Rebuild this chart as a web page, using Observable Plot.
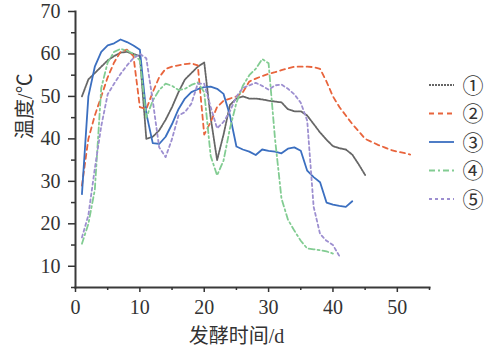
<!DOCTYPE html>
<html><head><meta charset="utf-8">
<script src="https://cdn.jsdelivr.net/npm/d3@7"></script>
<script src="https://cdn.jsdelivr.net/npm/@observablehq/plot@0.6"></script>
<style>
body{margin:0;background:#fff}
#c{width:486px;height:358px}
#c svg text{font-family:'Liberation Serif','Noto Sans CJK SC',serif !important}
#c svg text.circ{font-family:'Noto Sans CJK SC','DejaVu Sans',sans-serif !important}
</style>
</head><body><div id="c"></div>
<script>
const seriesNames = ["①","②","③","④","⑤"];
const days1 = [1,2,3,4,5,6,7,8,9,10,11,12,13,14,15,16,17,18,19,20,21,22,23,24,25,26,27,28,29,30,31,32,33,34,35,36,37,38,39,40,41,42,43,44,45];
const temp1 = [50,54,55.5,57,58.5,59.5,60.3,60.5,60,59.5,40,40.5,42,44.5,47.5,51,54,55.5,57,58,45,35,41,48,49.5,50,49.5,49.5,49.3,49,48.8,48.6,47,46.5,46.5,45.5,43.5,41.5,39.8,38.3,37.8,37.5,36.3,34,31.5];
const days2 = [1,2,3,4,5,6,7,8,9,10,11,12,13,14,15,16,17,18,19,20,21,22,23,24,25,26,27,28,29,30,31,32,33,34,35,36,37,38,39,40,41,42,43,44,45,46,47,48,49,50,51,52];
const temp2 = [29,40,45.5,50,54.5,58,60.5,61,59.5,47.5,47,51,54.5,56.5,57,57.3,57.6,57.8,57.3,41,44,47.5,49,49.5,50,51,53.5,54.2,54.8,55.3,55.7,56.2,56.6,57,57,57,56.9,56.5,53.5,50,47.5,45.5,43.5,41.8,40,39.3,38.6,38,37.4,37,36.7,36.3];
const days3 = [1,2,3,4,5,6,7,8,9,10,11,12,13,14,15,16,17,18,19,20,21,22,23,24,25,26,27,28,29,30,31,32,33,34,35,36,37,38,39,40,41,42,43];
const temp3 = [27,50,57,60.5,62,62.5,63.4,62.8,62,61,46,39,38.8,40.5,43.5,47,49.5,51,51.7,52.2,52.3,51.8,50.6,45.5,38.2,37.5,37,36.2,37.5,37.2,37,36.6,37.7,38,37.2,32.5,31,29.8,25,24.5,24.2,24,25.3];
const days4 = [1,2,3,4,5,6,7,8,9,10,11,12,13,14,15,16,17,18,19,20,21,22,23,24,25,26,27,28,29,30,31,32,33,34,35,36,37,38,39,40];
const temp4 = [15.3,20,28,52,58,60.5,61.2,60.8,60,58.5,45,49,51.5,53,52.5,51.5,51.8,52.7,53.3,51,36,31.4,34.9,42.5,48.5,52.5,55,56.5,58.8,57.8,40,26,21,18.4,16,14.2,14,13.8,13.5,13];
const days5 = [1,2,3,4,5,6,7,8,9,10,11,12,13,14,15,16,17,18,19,20,21,22,23,24,25,26,27,28,29,30,31,32,33,34,35,36,37,38,39,40,41];
const temp5 = [16.8,22,33,43,50.5,53,55.3,57.3,59,60,59,49,38,35.7,40,45.5,46.3,48.3,53,53,47.5,42.5,44,46.5,50,52,52.6,53.2,52.5,51.6,52.6,52.8,51.8,50.5,48.5,44.3,24,17.6,16,15,12.4];
const xMajorTicks = [0,10,20,30,40,50];
const xMinorTicks = [5,15,25,35,45,55];
const yMajorTicks = [10,20,30,40,50,60,70];
const yMinorTicks = [5,15,25,35,45,55,65];
const xTitle = "发酵时间/d";
const yTitle = "温度/℃";

const colors = ["#666666","#e8643c","#3b6fc0","#82cc92","#9d8fd0"];
const dashes = ["2,1","5,4",null,"6,3,2,3","3,3"];
const widths = [1.8,1.8,1.8,1.8,1.8];

const allDays = [days1,days2,days3,days4,days5];
const allTemps = [temp1,temp2,temp3,temp4,temp5];
const data = seriesNames.map((s,i)=>allDays[i].map((d,j)=>({series:s, day:d, temp:allTemps[i][j]})));

const font = "'Liberation Serif','Noto Sans CJK SC',serif";

const lineMarks = data.map((arr,i)=>Plot.line(arr,{x:"day",y:"temp",stroke:colors[i],strokeWidth:widths[i],strokeDasharray:dashes[i]}));

const plot = Plot.plot({
  width:486, height:358,
  marginLeft:75, marginRight:57, marginTop:11, marginBottom:71,
  style:{fontFamily:font, color:"#333", background:"#fff"},
  x:{domain:[0,55]},
  y:{domain:[5,70]},
  marks:[
    ...lineMarks,
    Plot.frame({anchor:"left", stroke:"#3a3a3a", strokeWidth:2}),
    Plot.frame({anchor:"bottom", stroke:"#3a3a3a", strokeWidth:2}),
    Plot.axisY(yMajorTicks,{tickSize:7, tickPadding:8, fontSize:20, fontFamily:font, label:null, strokeWidth:1.5}),
    Plot.axisY(yMinorTicks,{tickSize:4, text:null, label:null, strokeWidth:1.5}),
    Plot.axisX(xMajorTicks,{tickSize:5, tickPadding:7, fontSize:20, fontFamily:font, label:null, strokeWidth:1.5}),
    Plot.axisX(xMinorTicks,{tickSize:3, text:null, label:null, strokeWidth:1.5}),
    Plot.text([xTitle],{x:()=>25, frameAnchor:"bottom", dy:55, fontSize:20, fontFamily:font, fill:"#333"}),
    Plot.text([yTitle],{y:()=>40, frameAnchor:"left", dx:-50, rotate:-90, fontSize:20, fontFamily:font, fill:"#333"})
  ]
});
document.getElementById("c").appendChild(plot);

const svg = d3.select(plot);
const lg = svg.append("g");
seriesNames.forEach((s,i)=>{
  const yy = 85 + 28.5*i;
  lg.append("line").attr("x1",429).attr("x2",454).attr("y1",yy).attr("y2",yy)
    .attr("stroke",colors[i]).attr("stroke-width",1.8).attr("stroke-dasharray",dashes[i]);
  lg.append("text").attr("class","circ").attr("x",473).attr("y",yy).attr("dy","0.36em").attr("text-anchor","middle")
    .attr("font-size",21).attr("fill","#333").text(s);
});
</script></body></html>
